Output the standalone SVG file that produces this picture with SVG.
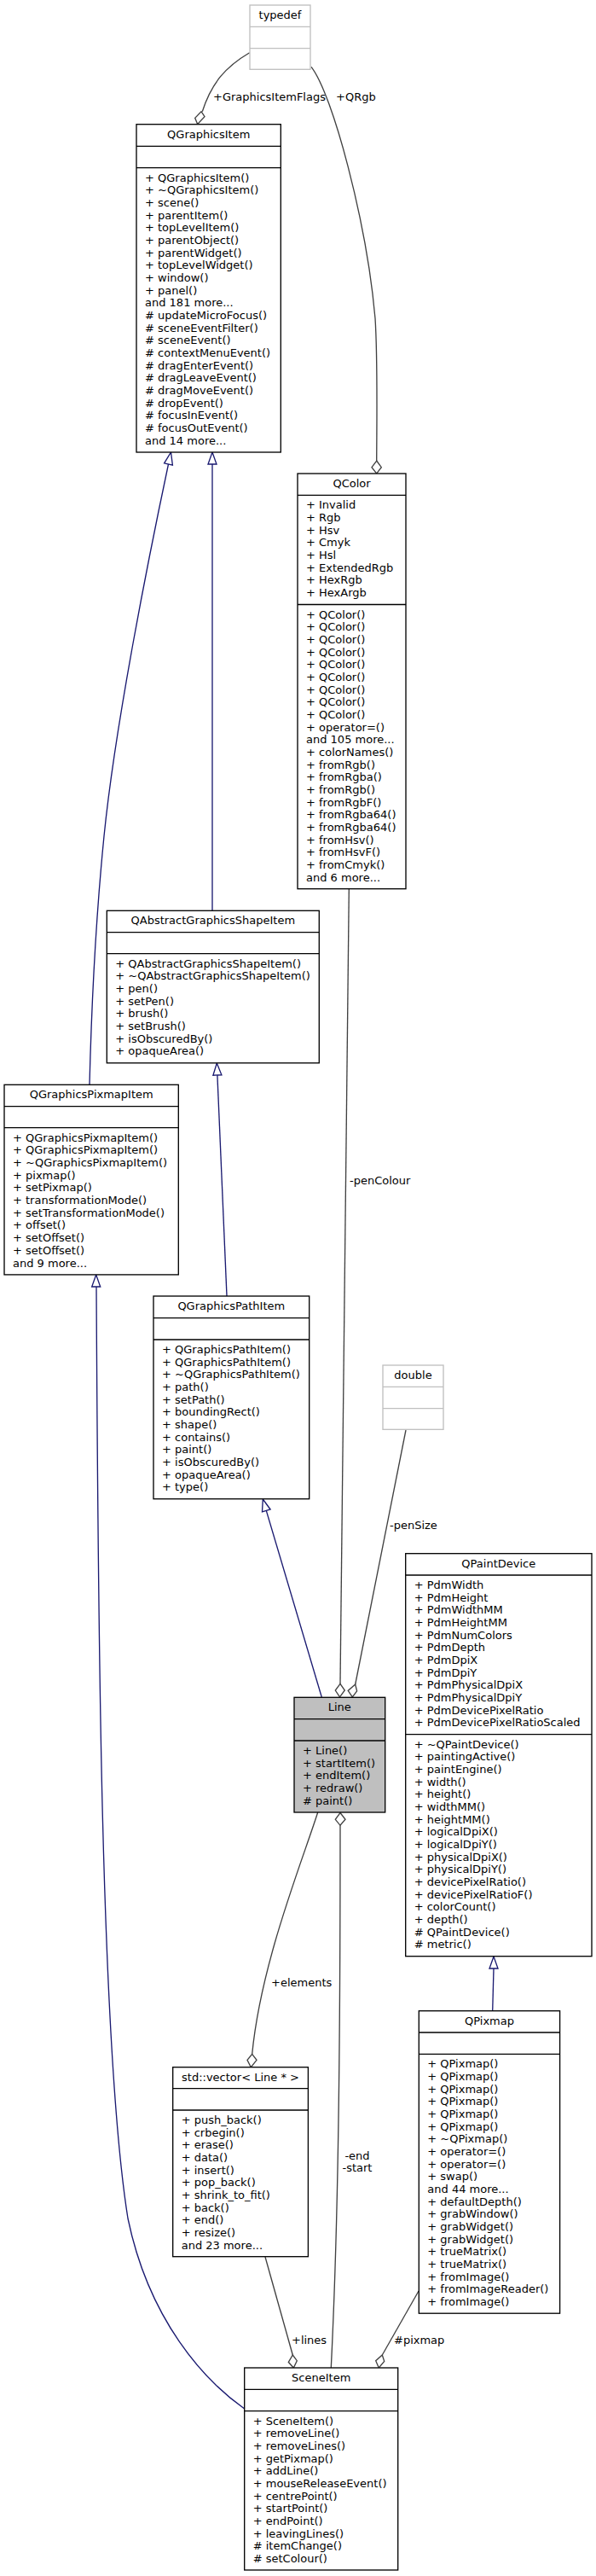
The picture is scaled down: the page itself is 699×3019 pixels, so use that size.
<svg xmlns="http://www.w3.org/2000/svg" width="699" height="3019" viewBox="0 0 699 3019">
<style>
text{font-family:"DejaVu Sans","Liberation Sans",sans-serif;font-size:13px;fill:#000}
.m{text-anchor:middle}
.b rect{fill:#fff;stroke:#000;stroke-width:1.33}
.b line{stroke:#000;stroke-width:1.33}
.g rect{fill:#fff;stroke:#bfbfbf;stroke-width:1.33}
.g line{stroke:#bfbfbf;stroke-width:1.33}
.hl rect{fill:#bfbfbf}
.e{fill:none;stroke:#404040;stroke-width:1.33}
.i{fill:none;stroke:#191970;stroke-width:1.33}
.d{fill:#fff;stroke:#404040;stroke-width:1.33}
.a{fill:#fff;stroke:#191970;stroke-width:1.33}
</style>
<rect width="699" height="3019" fill="#fff"/>
<g id="connectors">
<path class="e" d="M292.7,61.7 C265,78 248,97 237.3,130.7"/>
<polygon class="d" points="236,130.7 240,136.7 231.7,145.5 228.7,138.3"/>
<text x="250" y="117.5">+GraphicsItemFlags</text>
<path class="e" d="M365,78.3 C390,110 430,260 440,373 C443,420 442,480 441.7,540"/>
<polygon class="d" points="441.7,540 447.3,547.7 441.7,555 436,547.7"/>
<text x="394" y="117.5">+QRgb</text>
<path class="i" d="M105,1271 C108,1150 115,1050 122,980 C135,850 175,650 197.5,544"/>
<polygon class="a" points="200.5,530 202.4,545.1 192.6,542.9"/>
<path class="i" d="M249,1067 L249,544"/>
<polygon class="a" points="249,530 254,544 244,544"/>
<path class="i" d="M266,1519 L254.9,1260"/>
<polygon class="a" points="254.3,1246 259.9,1259.8 249.9,1260.2"/>
<path class="i" d="M113,1508 C115,1900 118,2400 150,2600 C175,2720 240,2790 286.7,2823"/>
<polygon class="a" points="112.7,1494 117.7,1508 107.7,1508"/>
<path class="i" d="M377.3,1989 L312.3,1770.4"/>
<polygon class="a" points="308.3,1757 317.1,1769 307.5,1771.8"/>
<path class="e" d="M409.3,1042 L399,1973.3"/>
<polygon class="d" points="399,1973.3 404.3,1981 398.5,1988.8 393.3,1981"/>
<text x="410" y="1387.5">-penColour</text>
<path class="e" d="M476,1676 L416.7,1974"/>
<polygon class="d" points="416.7,1974 418.6,1981.8 413.3,1988.8 408.2,1981.4"/>
<text x="457" y="1792">-penSize</text>
<path class="e" d="M372.7,2124 C355,2180 306,2300 295.7,2407.3"/>
<polygon class="d" points="295.7,2407.3 301,2414.3 294.3,2422.7 290,2414.3"/>
<text x="318" y="2328">+elements</text>
<path class="e" d="M399,2139.3 C399,2400 397,2600 388.3,2775"/>
<polygon class="d" points="399,2124.5 405,2132.3 399,2139.3 393.3,2132.3"/>
<text class="m" x="419" y="2530.5">-end</text>
<text class="m" x="419" y="2545">-start</text>
<path class="i" d="M577.7,2356.7 L579,2307"/>
<polygon class="a" points="579,2293 584,2307 574,2307"/>
<path class="e" d="M311,2645 L343.3,2760"/>
<polygon class="d" points="343.3,2760 348.3,2766.7 344.3,2775 338.3,2768.3"/>
<text x="342" y="2747">+lines</text>
<path class="e" d="M491,2685 L448.3,2760"/>
<polygon class="d" points="448.3,2760 450.7,2767.3 444.3,2775 440.7,2766.7"/>
<text x="462" y="2747">#pixmap</text>
</g>
<g id="typedef" class="g">
<rect x="293" y="6" width="71" height="75.3"/>
<line x1="293" y1="31.3" x2="364" y2="31.3"/>
<line x1="293" y1="56.7" x2="364" y2="56.7"/>
<text class="m" x="328.5" y="22">typedef</text>
</g>
<g id="QGraphicsItem" class="b">
<rect x="160" y="145.7" width="169.3" height="384.3"/>
<line x1="160" y1="171.3" x2="329.3" y2="171.3"/>
<line x1="160" y1="196.7" x2="329.3" y2="196.7"/>
<text class="m" x="244.7" y="161.7">QGraphicsItem</text>
<text x="170" y="212.7">+ QGraphicsItem()<tspan x="170" dy="14.67">+ ~QGraphicsItem()</tspan><tspan x="170" dy="14.67">+ scene()</tspan><tspan x="170" dy="14.67">+ parentItem()</tspan><tspan x="170" dy="14.67">+ topLevelItem()</tspan><tspan x="170" dy="14.67">+ parentObject()</tspan><tspan x="170" dy="14.67">+ parentWidget()</tspan><tspan x="170" dy="14.67">+ topLevelWidget()</tspan><tspan x="170" dy="14.67">+ window()</tspan><tspan x="170" dy="14.67">+ panel()</tspan><tspan x="170" dy="14.67">and 181 more...</tspan><tspan x="170" dy="14.67"># updateMicroFocus()</tspan><tspan x="170" dy="14.67"># sceneEventFilter()</tspan><tspan x="170" dy="14.67"># sceneEvent()</tspan><tspan x="170" dy="14.67"># contextMenuEvent()</tspan><tspan x="170" dy="14.67"># dragEnterEvent()</tspan><tspan x="170" dy="14.67"># dragLeaveEvent()</tspan><tspan x="170" dy="14.67"># dragMoveEvent()</tspan><tspan x="170" dy="14.67"># dropEvent()</tspan><tspan x="170" dy="14.67"># focusInEvent()</tspan><tspan x="170" dy="14.67"># focusOutEvent()</tspan><tspan x="170" dy="14.67">and 14 more...</tspan></text>
</g>
<g id="QColor" class="b">
<rect x="349" y="555" width="127" height="486.7"/>
<line x1="349" y1="580.3" x2="476" y2="580.3"/>
<line x1="349" y1="708.5" x2="476" y2="708.5"/>
<text class="m" x="412.5" y="571">QColor</text>
<text x="359" y="596.3">+ Invalid<tspan x="359" dy="14.67">+ Rgb</tspan><tspan x="359" dy="14.67">+ Hsv</tspan><tspan x="359" dy="14.67">+ Cmyk</tspan><tspan x="359" dy="14.67">+ Hsl</tspan><tspan x="359" dy="14.67">+ ExtendedRgb</tspan><tspan x="359" dy="14.67">+ HexRgb</tspan><tspan x="359" dy="14.67">+ HexArgb</tspan></text>
<text x="359" y="724.6">+ QColor()<tspan x="359" dy="14.67">+ QColor()</tspan><tspan x="359" dy="14.67">+ QColor()</tspan><tspan x="359" dy="14.67">+ QColor()</tspan><tspan x="359" dy="14.67">+ QColor()</tspan><tspan x="359" dy="14.67">+ QColor()</tspan><tspan x="359" dy="14.67">+ QColor()</tspan><tspan x="359" dy="14.67">+ QColor()</tspan><tspan x="359" dy="14.67">+ QColor()</tspan><tspan x="359" dy="14.67">+ operator=()</tspan><tspan x="359" dy="14.67">and 105 more...</tspan><tspan x="359" dy="14.67">+ colorNames()</tspan><tspan x="359" dy="14.67">+ fromRgb()</tspan><tspan x="359" dy="14.67">+ fromRgba()</tspan><tspan x="359" dy="14.67">+ fromRgb()</tspan><tspan x="359" dy="14.67">+ fromRgbF()</tspan><tspan x="359" dy="14.67">+ fromRgba64()</tspan><tspan x="359" dy="14.67">+ fromRgba64()</tspan><tspan x="359" dy="14.67">+ fromHsv()</tspan><tspan x="359" dy="14.67">+ fromHsvF()</tspan><tspan x="359" dy="14.67">+ fromCmyk()</tspan><tspan x="359" dy="14.67">and 6 more...</tspan></text>
</g>
<g id="QAbstractGraphicsShapeItem" class="b">
<rect x="125.3" y="1067.3" width="249" height="178.5"/>
<line x1="125.3" y1="1092.7" x2="374.3" y2="1092.7"/>
<line x1="125.3" y1="1117.7" x2="374.3" y2="1117.7"/>
<text class="m" x="249.8" y="1083.3">QAbstractGraphicsShapeItem</text>
<text x="135.3" y="1133.8">+ QAbstractGraphicsShapeItem()<tspan x="135.3" dy="14.67">+ ~QAbstractGraphicsShapeItem()</tspan><tspan x="135.3" dy="14.67">+ pen()</tspan><tspan x="135.3" dy="14.67">+ setPen()</tspan><tspan x="135.3" dy="14.67">+ brush()</tspan><tspan x="135.3" dy="14.67">+ setBrush()</tspan><tspan x="135.3" dy="14.67">+ isObscuredBy()</tspan><tspan x="135.3" dy="14.67">+ opaqueArea()</tspan></text>
</g>
<g id="QGraphicsPixmapItem" class="b">
<rect x="5" y="1271.3" width="204.3" height="222.6"/>
<line x1="5" y1="1296.7" x2="209.3" y2="1296.7"/>
<line x1="5" y1="1321.7" x2="209.3" y2="1321.7"/>
<text class="m" x="107.2" y="1287.3">QGraphicsPixmapItem</text>
<text x="15" y="1337.8">+ QGraphicsPixmapItem()<tspan x="15" dy="14.67">+ QGraphicsPixmapItem()</tspan><tspan x="15" dy="14.67">+ ~QGraphicsPixmapItem()</tspan><tspan x="15" dy="14.67">+ pixmap()</tspan><tspan x="15" dy="14.67">+ setPixmap()</tspan><tspan x="15" dy="14.67">+ transformationMode()</tspan><tspan x="15" dy="14.67">+ setTransformationMode()</tspan><tspan x="15" dy="14.67">+ offset()</tspan><tspan x="15" dy="14.67">+ setOffset()</tspan><tspan x="15" dy="14.67">+ setOffset()</tspan><tspan x="15" dy="14.67">and 9 more...</tspan></text>
</g>
<g id="QGraphicsPathItem" class="b">
<rect x="180" y="1519" width="182.7" height="237.7"/>
<line x1="180" y1="1544.7" x2="362.7" y2="1544.7"/>
<line x1="180" y1="1570" x2="362.7" y2="1570"/>
<text class="m" x="271.3" y="1535">QGraphicsPathItem</text>
<text x="190" y="1586">+ QGraphicsPathItem()<tspan x="190" dy="14.67">+ QGraphicsPathItem()</tspan><tspan x="190" dy="14.67">+ ~QGraphicsPathItem()</tspan><tspan x="190" dy="14.67">+ path()</tspan><tspan x="190" dy="14.67">+ setPath()</tspan><tspan x="190" dy="14.67">+ boundingRect()</tspan><tspan x="190" dy="14.67">+ shape()</tspan><tspan x="190" dy="14.67">+ contains()</tspan><tspan x="190" dy="14.67">+ paint()</tspan><tspan x="190" dy="14.67">+ isObscuredBy()</tspan><tspan x="190" dy="14.67">+ opaqueArea()</tspan><tspan x="190" dy="14.67">+ type()</tspan></text>
</g>
<g id="double" class="g">
<rect x="449" y="1600" width="71" height="75.3"/>
<line x1="449" y1="1625.3" x2="520" y2="1625.3"/>
<line x1="449" y1="1650.7" x2="520" y2="1650.7"/>
<text class="m" x="484.5" y="1616">double</text>
</g>
<g id="QPaintDevice" class="b">
<rect x="475.7" y="1820.7" width="218.3" height="472"/>
<line x1="475.7" y1="1846" x2="694" y2="1846"/>
<line x1="475.7" y1="2032.7" x2="694" y2="2032.7"/>
<text class="m" x="584.8" y="1836.7">QPaintDevice</text>
<text x="485.7" y="1862">+ PdmWidth<tspan x="485.7" dy="14.67">+ PdmHeight</tspan><tspan x="485.7" dy="14.67">+ PdmWidthMM</tspan><tspan x="485.7" dy="14.67">+ PdmHeightMM</tspan><tspan x="485.7" dy="14.67">+ PdmNumColors</tspan><tspan x="485.7" dy="14.67">+ PdmDepth</tspan><tspan x="485.7" dy="14.67">+ PdmDpiX</tspan><tspan x="485.7" dy="14.67">+ PdmDpiY</tspan><tspan x="485.7" dy="14.67">+ PdmPhysicalDpiX</tspan><tspan x="485.7" dy="14.67">+ PdmPhysicalDpiY</tspan><tspan x="485.7" dy="14.67">+ PdmDevicePixelRatio</tspan><tspan x="485.7" dy="14.67">+ PdmDevicePixelRatioScaled</tspan></text>
<text x="485.7" y="2048.7">+ ~QPaintDevice()<tspan x="485.7" dy="14.67">+ paintingActive()</tspan><tspan x="485.7" dy="14.67">+ paintEngine()</tspan><tspan x="485.7" dy="14.67">+ width()</tspan><tspan x="485.7" dy="14.67">+ height()</tspan><tspan x="485.7" dy="14.67">+ widthMM()</tspan><tspan x="485.7" dy="14.67">+ heightMM()</tspan><tspan x="485.7" dy="14.67">+ logicalDpiX()</tspan><tspan x="485.7" dy="14.67">+ logicalDpiY()</tspan><tspan x="485.7" dy="14.67">+ physicalDpiX()</tspan><tspan x="485.7" dy="14.67">+ physicalDpiY()</tspan><tspan x="485.7" dy="14.67">+ devicePixelRatio()</tspan><tspan x="485.7" dy="14.67">+ devicePixelRatioF()</tspan><tspan x="485.7" dy="14.67">+ colorCount()</tspan><tspan x="485.7" dy="14.67">+ depth()</tspan><tspan x="485.7" dy="14.67"># QPaintDevice()</tspan><tspan x="485.7" dy="14.67"># metric()</tspan></text>
</g>
<g id="Line" class="b hl">
<rect x="345" y="1989.3" width="106.7" height="134.7"/>
<line x1="345" y1="2014.7" x2="451.7" y2="2014.7"/>
<line x1="345" y1="2040" x2="451.7" y2="2040"/>
<text class="m" x="398.3" y="2005.3">Line</text>
<text x="355" y="2056">+ Line()<tspan x="355" dy="14.67">+ startItem()</tspan><tspan x="355" dy="14.67">+ endItem()</tspan><tspan x="355" dy="14.67">+ redraw()</tspan><tspan x="355" dy="14.67"># paint()</tspan></text>
</g>
<g id="QPixmap" class="b">
<rect x="491.3" y="2356.7" width="165.3" height="354.5"/>
<line x1="491.3" y1="2382" x2="656.7" y2="2382"/>
<line x1="491.3" y1="2407.3" x2="656.7" y2="2407.3"/>
<text class="m" x="574" y="2372.7">QPixmap</text>
<text x="501.3" y="2423.3">+ QPixmap()<tspan x="501.3" dy="14.67">+ QPixmap()</tspan><tspan x="501.3" dy="14.67">+ QPixmap()</tspan><tspan x="501.3" dy="14.67">+ QPixmap()</tspan><tspan x="501.3" dy="14.67">+ QPixmap()</tspan><tspan x="501.3" dy="14.67">+ QPixmap()</tspan><tspan x="501.3" dy="14.67">+ ~QPixmap()</tspan><tspan x="501.3" dy="14.67">+ operator=()</tspan><tspan x="501.3" dy="14.67">+ operator=()</tspan><tspan x="501.3" dy="14.67">+ swap()</tspan><tspan x="501.3" dy="14.67">and 44 more...</tspan><tspan x="501.3" dy="14.67">+ defaultDepth()</tspan><tspan x="501.3" dy="14.67">+ grabWindow()</tspan><tspan x="501.3" dy="14.67">+ grabWidget()</tspan><tspan x="501.3" dy="14.67">+ grabWidget()</tspan><tspan x="501.3" dy="14.67">+ trueMatrix()</tspan><tspan x="501.3" dy="14.67">+ trueMatrix()</tspan><tspan x="501.3" dy="14.67">+ fromImage()</tspan><tspan x="501.3" dy="14.67">+ fromImageReader()</tspan><tspan x="501.3" dy="14.67">+ fromImage()</tspan></text>
</g>
<g id="vector" class="b">
<rect x="202.7" y="2422.7" width="158.7" height="222"/>
<line x1="202.7" y1="2447.7" x2="361.3" y2="2447.7"/>
<line x1="202.7" y1="2473" x2="361.3" y2="2473"/>
<text class="m" x="282" y="2438.7">std::vector&lt; Line * &gt;</text>
<text x="212.7" y="2489">+ push_back()<tspan x="212.7" dy="14.67">+ crbegin()</tspan><tspan x="212.7" dy="14.67">+ erase()</tspan><tspan x="212.7" dy="14.67">+ data()</tspan><tspan x="212.7" dy="14.67">+ insert()</tspan><tspan x="212.7" dy="14.67">+ pop_back()</tspan><tspan x="212.7" dy="14.67">+ shrink_to_fit()</tspan><tspan x="212.7" dy="14.67">+ back()</tspan><tspan x="212.7" dy="14.67">+ end()</tspan><tspan x="212.7" dy="14.67">+ resize()</tspan><tspan x="212.7" dy="14.67">and 23 more...</tspan></text>
</g>
<g id="SceneItem" class="b">
<rect x="286.7" y="2775" width="180" height="237"/>
<line x1="286.7" y1="2800.3" x2="466.7" y2="2800.3"/>
<line x1="286.7" y1="2825.7" x2="466.7" y2="2825.7"/>
<text class="m" x="376.7" y="2791">SceneItem</text>
<text x="296.7" y="2841.7">+ SceneItem()<tspan x="296.7" dy="14.67">+ removeLine()</tspan><tspan x="296.7" dy="14.67">+ removeLines()</tspan><tspan x="296.7" dy="14.67">+ getPixmap()</tspan><tspan x="296.7" dy="14.67">+ addLine()</tspan><tspan x="296.7" dy="14.67">+ mouseReleaseEvent()</tspan><tspan x="296.7" dy="14.67">+ centrePoint()</tspan><tspan x="296.7" dy="14.67">+ startPoint()</tspan><tspan x="296.7" dy="14.67">+ endPoint()</tspan><tspan x="296.7" dy="14.67">+ leavingLines()</tspan><tspan x="296.7" dy="14.67"># itemChange()</tspan><tspan x="296.7" dy="14.67"># setColour()</tspan></text>
</g>
</svg>
